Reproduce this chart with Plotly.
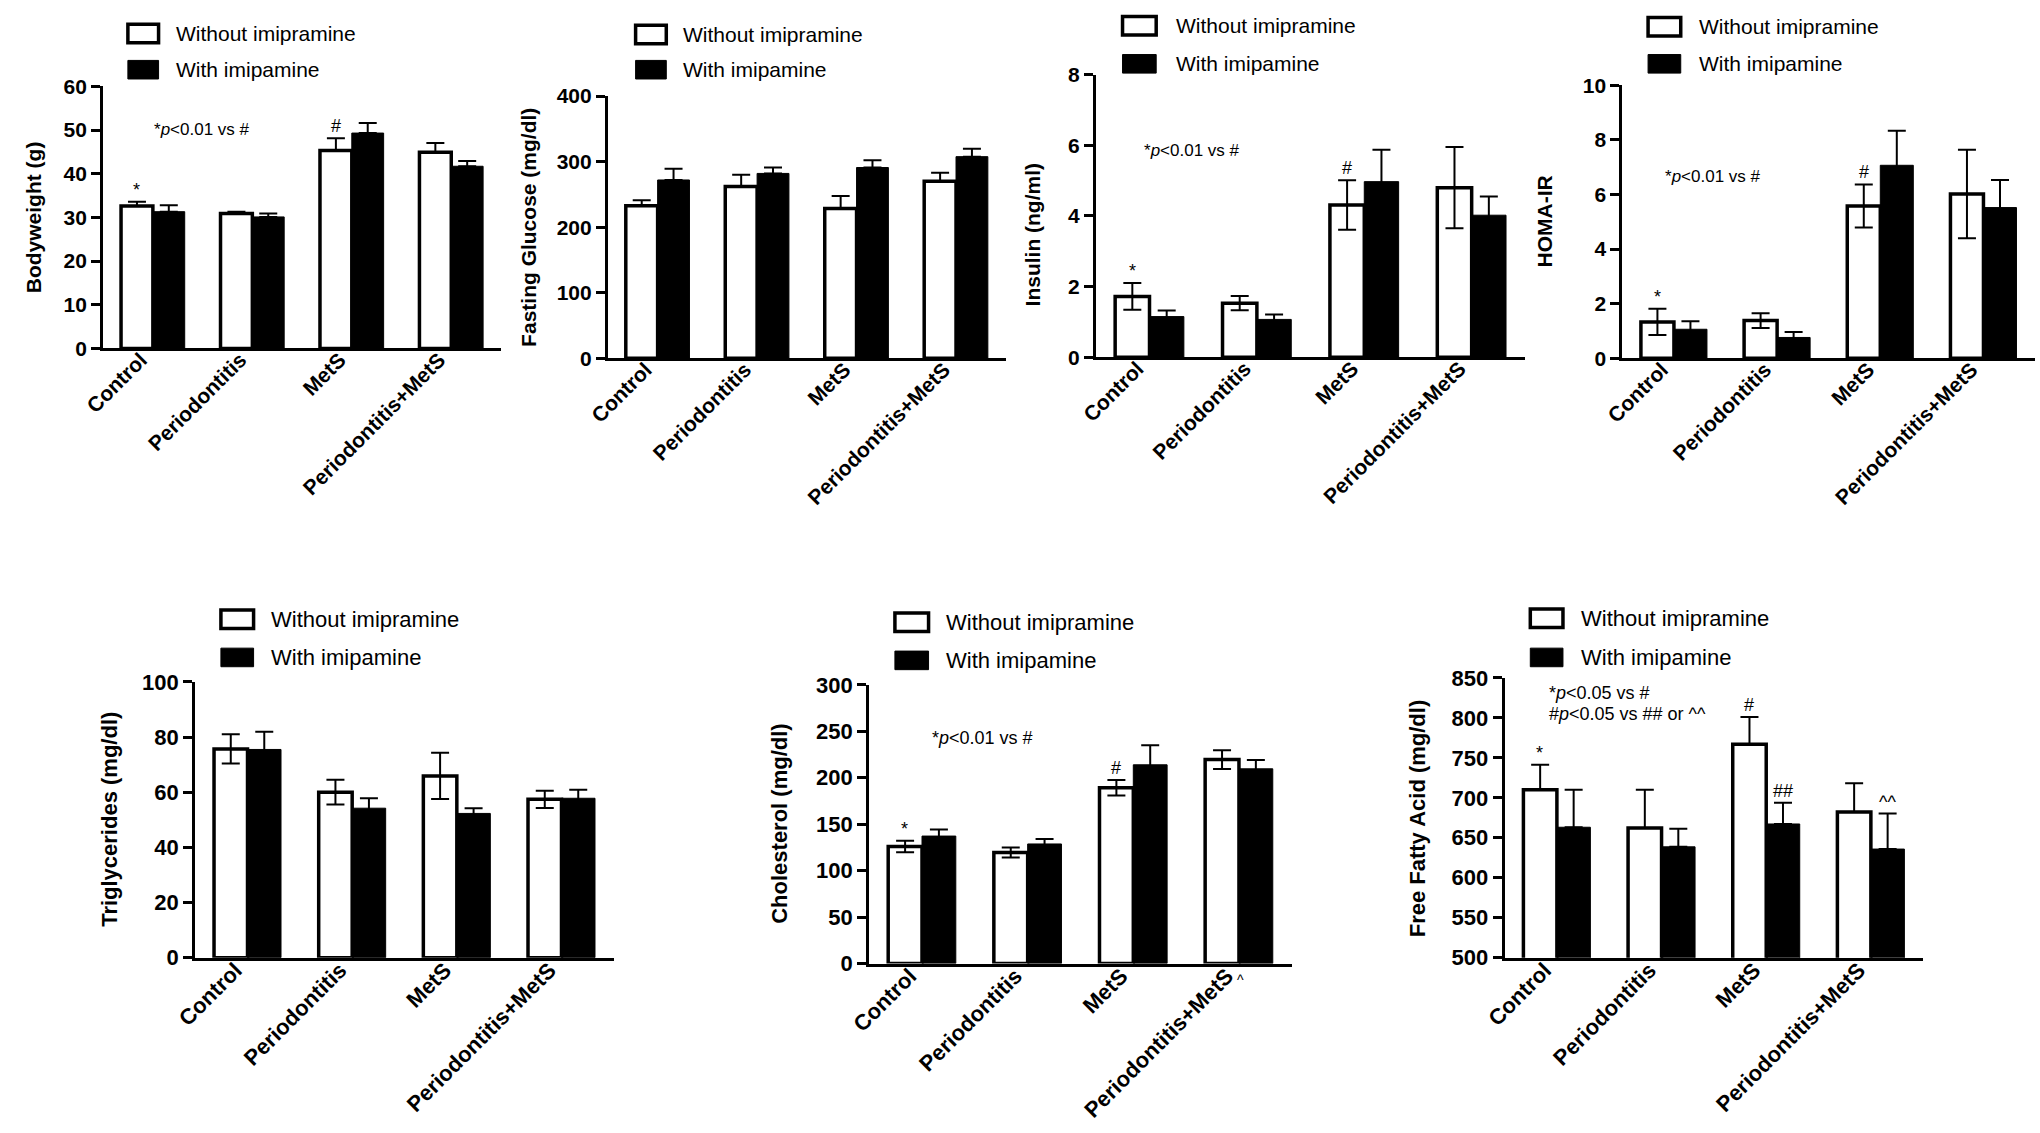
import plotly.graph_objects as go

W, H = 2040, 1133
FONT = "Liberation Sans, Arial, sans-serif"

# ---------------- data ----------------
categories = ["Control", "Periodontitis", "MetS", "Periodontitis+MetS"]
series_names = ["Without imipramine", "With imipamine"]

bodyweight_without = [32.6, 30.9, 45.3, 44.9]
bodyweight_without_err = [1.0, 0.4, 2.8, 2.1]
bodyweight_with = [31.3, 30.1, 49.3, 41.7]
bodyweight_with_err = [1.5, 0.8, 2.3, 1.2]

glucose_without = [232.5, 262.0, 228.6, 270.0]
glucose_without_err = [8.5, 18.0, 19.0, 13.0]
glucose_with = [272.0, 282.0, 291.0, 307.6]
glucose_with_err = [17.0, 9.0, 11.0, 12.0]

insulin_without = [1.72, 1.53, 4.31, 4.80]
insulin_without_err = [0.38, 0.20, 0.70, 1.15]
insulin_with = [1.15, 1.07, 4.97, 4.02]
insulin_with_err = [0.17, 0.14, 0.90, 0.53]

homa_without = [1.33, 1.38, 5.58, 6.02]
homa_without_err = [0.48, 0.27, 0.79, 1.62]
homa_with = [1.06, 0.76, 7.07, 5.52]
homa_with_err = [0.29, 0.20, 1.27, 1.01]

tg_without = [75.7, 60.0, 65.9, 57.4]
tg_without_err = [5.3, 4.5, 8.4, 3.1]
tg_with = [75.5, 54.2, 52.3, 57.8]
tg_with_err = [6.4, 3.6, 1.9, 3.1]

chol_without = [125.9, 119.6, 189.2, 219.5]
chol_without_err = [6.2, 5.4, 8.3, 10.0]
chol_with = [137.2, 128.7, 213.9, 209.6]
chol_with_err = [7.0, 5.3, 21.1, 9.5]

ffa_without = [710.1, 662.4, 767.2, 682.4]
ffa_without_err = [31.4, 47.6, 33.9, 35.9]
ffa_with = [663.2, 638.7, 667.3, 635.9]
ffa_with_err = [46.8, 22.5, 26.5, 44.4]

y_titles = ["Bodyweight (g)", "Fasting Glucose (mg/dl)", "Insulin (ng/ml)", "HOMA-IR",
            "Triglycerides (mg/dl)", "Cholesterol (mg/dl)", "Free Fatty Acid (mg/dl)"]
y_ranges = [[0, 60], [0, 400], [0, 8], [0, 10], [0, 100], [0, 300], [500, 850]]
y_dticks = [10, 100, 2, 2, 20, 50, 50]

# significance marks: (series index, category index, text)
sig_marks = [
    [(0, 0, "*"), (0, 2, "#")],
    [],
    [(0, 0, "*"), (0, 2, "#")],
    [(0, 0, "*"), (0, 2, "#")],
    [],
    [(0, 0, "*"), (0, 2, "#")],
    [(0, 0, "*"), (0, 2, "#"), (1, 2, "##"), (1, 3, "^^")],
]
note_texts = [
    ["*<i>p</i>&lt;0.01 vs #"],
    [],
    ["*<i>p</i>&lt;0.01 vs #"],
    ["*<i>p</i>&lt;0.01 vs #"],
    [],
    ["*<i>p</i>&lt;0.01 vs #"],
    ["*<i>p</i>&lt;0.05 vs #", "#<i>p</i>&lt;0.05 vs ## or ^^"],
]

values = [
    (bodyweight_without, bodyweight_without_err, bodyweight_with, bodyweight_with_err),
    (glucose_without, glucose_without_err, glucose_with, glucose_with_err),
    (insulin_without, insulin_without_err, insulin_with, insulin_with_err),
    (homa_without, homa_without_err, homa_with, homa_with_err),
    (tg_without, tg_without_err, tg_with, tg_with_err),
    (chol_without, chol_without_err, chol_with, chol_with_err),
    (ffa_without, ffa_without_err, ffa_with, ffa_with_err),
]

# ---------------- layout (pixel positions) ----------------
# plot area: (x_left, x_right, y_top, y_bottom)
areas = [(83, 485, 76, 344), (593, 995, 86, 354), (1086, 1520, 64, 353), (1618, 2035, 75, 354),
         (176, 599, 685, 967), (857, 1284, 688, 973), (1499, 1922, 681, 967)]
symmetric_err = [False, False, True, True, True, True, False]
title_pos = [(12, 210), (512, 220), (1022, 228), (1539, 214), (90, 826), (767, 830), (1411, 824)]
# legend: (box_x0, box_x1, text_x, y_center_row1, y_center_row2)
legend_pos = [(108, 139, 155, 22, 59), (621, 652, 667, 23, 59), (1113, 1147, 1165, 14, 53),
              (1644, 1677, 1693, 15, 53), (202, 235, 251, 621, 660), (883, 917, 933, 624, 663),
              (1525, 1558, 1574, 620, 660)]
note_pos = [(132, 120), None, (1133, 142), (1659, 168), None, (918, 742), (1542, 696)]
is_bottom = [False, False, False, False, True, True, True]

BARGAP = 0.36


def px(x):
    return x / W


def py(y):
    return 1 - y / H


fig = go.Figure()
annotations = []
shapes = []

for i in range(7):
    n = i + 1
    xa, ya = f"x{n}", f"y{n}"
    wo, wo_e, wi, wi_e = values[i]
    sym = symmetric_err[i]
    for s, (vals, errs) in enumerate([(wo, wo_e), (wi, wi_e)]):
        fig.add_trace(go.Bar(
            x=categories, y=vals, xaxis=xa, yaxis=ya, name=series_names[s],
            showlegend=False, offsetgroup=str(s),
            marker=dict(color="white" if s == 0 else "black",
                        line=dict(color="black", width=3.5 if s == 0 else 1)),
            error_y=dict(type="data", array=errs,
                         arrayminus=errs if sym else [0] * len(errs),
                         symmetric=False, color="black", thickness=2, width=9),
        ))
    x0, x1, y0, y1 = areas[i]
    bottom = is_bottom[i]
    tick_size = 22 if bottom else 21
    cat_size = 22 if bottom else 21
    fig.update_layout(**{
        f"xaxis{n}": dict(domain=[px(x0), px(x1)], anchor=ya, showline=True, linewidth=3,
                          linecolor="black", ticks="", showgrid=False, zeroline=False,
                          tickangle=-45, range=[-0.5, 3.5],
                          ticklabelstandoff=-12, ticklabelshift=-12,
                          tickfont=dict(family=FONT, size=cat_size, color="black", weight="bold")),
        f"yaxis{n}": dict(domain=[py(y1), py(y0)], anchor=xa, range=y_ranges[i], dtick=y_dticks[i],
                          tick0=y_ranges[i][0], showline=True, linewidth=3, linecolor="black",
                          ticks="outside", ticklen=9, tickwidth=3, tickcolor="black",
                          showgrid=False, zeroline=False,
                          tickfont=dict(family=FONT, size=tick_size, color="black", weight="bold")),
    })
    # y title
    tx, ty = title_pos[i]
    annotations.append(dict(x=px(tx), y=py(ty), xref="paper", yref="paper", text=y_titles[i],
                            textangle=-90, showarrow=False, xanchor="center", yanchor="middle",
                            font=dict(family=FONT, size=22 if bottom else 21, color="black",
                                      weight="bold")))
    # legend
    bx0, bx1, ltx, ly1, ly2 = legend_pos[i]
    bh = 19
    for s, lyc in enumerate([ly1, ly2]):
        shapes.append(dict(type="rect", xref="paper", yref="paper",
                           x0=px(bx0), x1=px(bx1), y0=py(lyc + bh / 2), y1=py(lyc - bh / 2),
                           fillcolor="white" if s == 0 else "black",
                           line=dict(color="black", width=3.5 if s == 0 else 1)))
        annotations.append(dict(x=px(ltx), y=py(lyc), xref="paper", yref="paper",
                                text=series_names[s], showarrow=False, xanchor="left",
                                yanchor="middle",
                                font=dict(family=FONT, size=22 if bottom else 21, color="black")))
    # notes
    if note_pos[i] is not None:
        nx, ny = note_pos[i]
        for k, t in enumerate(note_texts[i]):
            annotations.append(dict(x=px(nx), y=py(ny + 22 * k), xref="paper", yref="paper",
                                    text=t, showarrow=False, xanchor="left", yanchor="middle",
                                    font=dict(family=FONT, size=18 if bottom else 17,
                                              color="black")))
    # significance marks above error bars
    spacing = (x1 - x0) / 4
    off = spacing * (1 - BARGAP) / 4
    for s, c, t in sig_marks[i]:
        v = values[i][2 * s][c] + values[i][2 * s + 1][c]
        annotations.append(dict(x=categories[c], y=v, xref=xa, yref=ya, text=t,
                                showarrow=False, xanchor="center", yanchor="bottom",
                                xshift=-off if s == 0 else off, yshift=0,
                                font=dict(family=FONT, size=18, color="black")))

# stray caret mark visible above the last cholesterol category label
annotations.append(dict(x=px(1232), y=py(990), xref="paper", yref="paper", text="^",
                        showarrow=False, xanchor="center", yanchor="middle",
                        font=dict(family=FONT, size=14, color="black")))

fig.update_layout(
    width=W, height=H, autosize=False,
    margin=dict(l=0, r=0, t=0, b=0),
    paper_bgcolor="white", plot_bgcolor="white",
    barmode="group", bargap=BARGAP, bargroupgap=0,
    annotations=annotations, shapes=shapes,
    font=dict(family=FONT, color="black"),
    showlegend=False,
)

fig.write_html("out.html", config={"displayModeBar": False},
               post_script="document.body.style.margin='0px';document.body.style.overflow='hidden';")
